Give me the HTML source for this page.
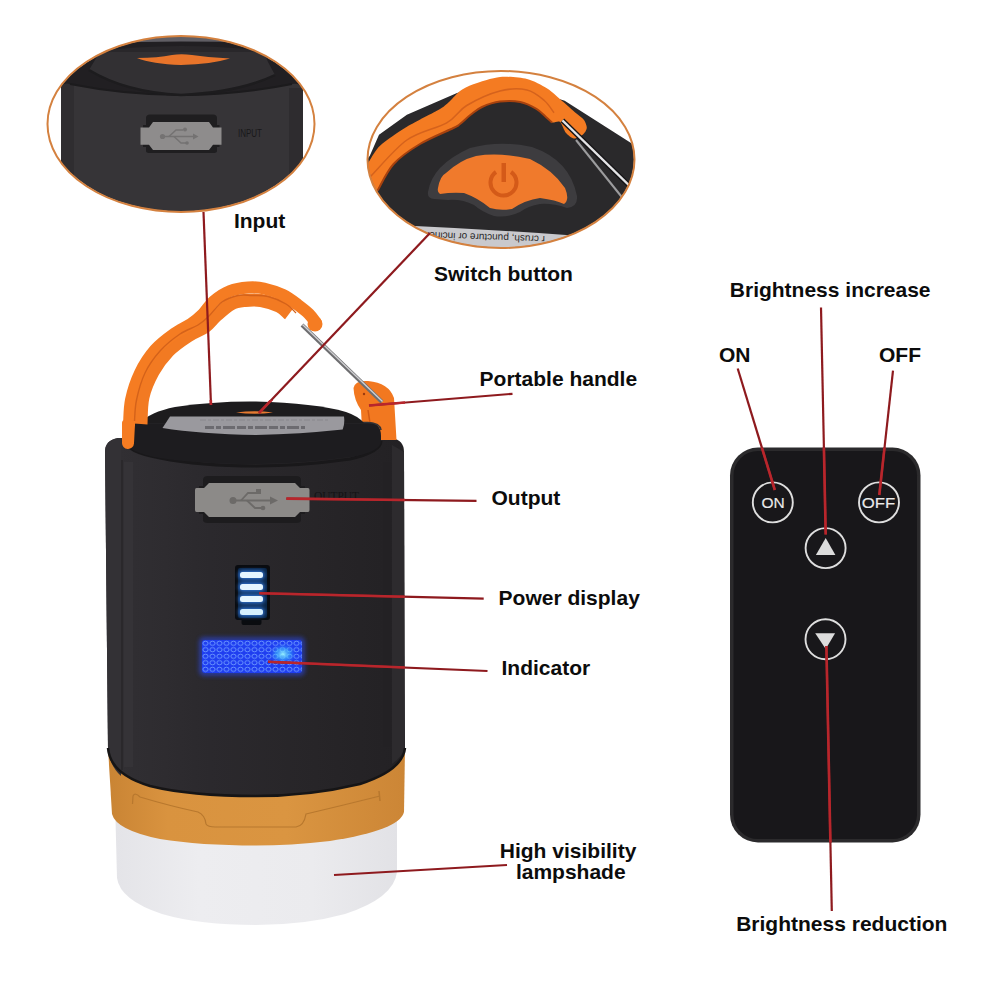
<!DOCTYPE html>
<html><head><meta charset="utf-8">
<style>
html,body{margin:0;padding:0;background:#fff;}
body{width:1001px;height:1001px;overflow:hidden;position:relative;}
svg{position:absolute;left:0;top:0;}
.lb{font-family:"Liberation Sans",sans-serif;font-weight:bold;font-size:21px;fill:#0c0c0c;}
</style></head>
<body>
<svg width="1001" height="1001" viewBox="0 0 1001 1001">
<defs>
  <clipPath id="e1"><ellipse cx="181" cy="124" rx="133" ry="87.5"/></clipPath>
  <clipPath id="e2"><ellipse cx="501" cy="159.5" rx="133" ry="88"/></clipPath>
  <linearGradient id="bodyg" x1="0" x2="1" y1="0" y2="0">
    <stop offset="0" stop-color="#323034"/>
    <stop offset="0.35" stop-color="#2b292d"/>
    <stop offset="0.7" stop-color="#272528"/>
    <stop offset="1" stop-color="#232124"/>
  </linearGradient>
  <radialGradient id="cyan" cx="0.5" cy="0.5" r="0.5">
    <stop offset="0" stop-color="#a0ffff" stop-opacity="0.9"/>
    <stop offset="0.5" stop-color="#40c8ff" stop-opacity="0.5"/>
    <stop offset="1" stop-color="#2a60ff" stop-opacity="0"/>
  </radialGradient>
  <pattern id="bub" x="202" y="640" width="7" height="6.5" patternUnits="userSpaceOnUse">
    <rect width="7" height="6.5" fill="#1f3ef0"/>
    <ellipse cx="3.5" cy="3.25" rx="2.6" ry="2.1" fill="none" stroke="#6f9cff" stroke-width="0.9"/>
  </pattern>
  <linearGradient id="goldg" x1="0" x2="1" y1="0" y2="0">
    <stop offset="0" stop-color="#c98434"/>
    <stop offset="0.2" stop-color="#d9933f"/>
    <stop offset="0.6" stop-color="#da9541"/>
    <stop offset="1" stop-color="#cc8636"/>
  </linearGradient>
  <linearGradient id="shadeg" x1="0" x2="1" y1="0" y2="0">
    <stop offset="0" stop-color="#e4e4e8"/>
    <stop offset="0.3" stop-color="#ededf0"/>
    <stop offset="0.7" stop-color="#ebebee"/>
    <stop offset="1" stop-color="#e2e2e6"/>
  </linearGradient>
  <filter id="glow" x="-50%" y="-50%" width="200%" height="200%"><feGaussianBlur stdDeviation="2"/></filter>
</defs>

<!-- ===== Lantern ===== -->
<g id="lantern">
  <!-- lampshade -->
  <path d="M115 800 L397 800 L397 872 Q394 898 345 914 Q305 925 256 925 Q200 925 162 914 Q120 900 117 878 Z" fill="url(#shadeg)"/>
  <!-- gold ring -->
  <path d="M108 748 L405 748 L404 812 Q400 830 330 841 Q290 845.5 256 845.5 Q200 845.5 160 839 Q116 830 112 814 Z" fill="url(#goldg)"/>
  <path d="M132.5 804 L133 796 Q135 792 140 797 Q170 806 198 812 Q205 815 206 824 Q208 827 215 827 L296 827 Q304 826 306 814 Q340 806 376 797 L380 796" fill="none" stroke="#b8782e" stroke-width="1.2"/>
  <path d="M379 791 L380 801" stroke="#b8782e" stroke-width="1.5"/>
  <!-- body -->
  <path d="M105 452 Q105 440 118 438 L392 438 Q404 440 404 452 L405 748 Q403 770 360 784 Q310 796 256 796 Q190 796 150 786 Q110 774 108 750 Z" fill="url(#bodyg)"/>
  <path d="M105 452 Q105 440 118 438 L121 438 L121 776 Q110 766 108 750 Z" fill="#333135"/>
  <line x1="122" y1="460" x2="122" y2="770" stroke="#29272a" stroke-width="1.5"/>
  <rect x="124" y="462" width="9" height="305" fill="#39373b" opacity="0.6"/>
  <rect x="383" y="462" width="8" height="285" fill="#232124"/>
  <path d="M392 445 L404 452 L404.5 748 Q403 756 392 764 Z" fill="#2d2b2e"/>
  <path d="M108 748 Q110 774 150 786 Q190 796 256 796 Q310 796 360 784 Q403 770 405 748" fill="none" stroke="#161516" stroke-width="2.5"/>
  <!-- shadow under cap -->
  <path d="M126 441 Q126 452 160 458 Q200 466 256 466 Q300 466 350 459 Q381 452 381 441" fill="none" stroke="#19181a" stroke-width="3"/>
  <!-- small hook -->
  <path d="M353.5 388 Q355 380 368 381 Q389 383 394 398 L396.5 440 L378 440 L376 430 L362 428 L361 410 Q354 400 353.5 388 Z" fill="#f27820"/>
  <path d="M368 410 L372 436" stroke="#d25a14" stroke-width="1.5"/>
  <circle cx="364" cy="394" r="1.2" fill="#9a3a10"/>
  <!-- cap ring -->
  <path d="M126 436 Q126 422 140 422 L367 422 Q381 422 381 436 L381 441 Q381 452 350 457 Q300 464 256 464 Q200 464 160 458 Q126 452 126 441 Z" fill="#1d1c1f"/>
  <path d="M126 430 Q128 423 140 422.5 L368 422.5 Q380 423 381 430" fill="none" stroke="#343336" stroke-width="1.5"/>
  <!-- cap top -->
  <path d="M140 423 Q150 412 175 407 Q215 401 256 401.5 Q315 403 346 412 Q358 416 364 423 Z" fill="#1d1c1e"/>
  <path d="M170 416.5 L344 416.5 Q345 424 342.7 429.5 Q300 434 256 435 Q200 434 162.5 428 Z" fill="#9a999e"/>
  <path d="M205 427.5 L305 427.5" stroke="#6c6b70" stroke-width="3" stroke-dasharray="9 2 5 2 12 2"/>
  <path d="M200 420 L330 420" stroke="#88878c" stroke-width="1" stroke-dasharray="6 2 3 2"/>
  <path d="M236 412.5 Q255 410 273 412.5 Q255 415 236 412.5 Z" fill="#e57a30"/>
  <!-- handle -->
  <path d="M141.0 424.0 C141.3 419.5 141.0 405.7 143.0 397.0 C145.0 388.3 148.8 379.7 153.0 372.0 C157.2 364.3 162.7 357.0 168.5 351.0 C174.3 345.0 181.9 340.0 188.0 336.0 C194.1 332.0 200.3 330.3 205.0 327.0 C209.7 323.7 211.7 319.8 216.0 316.0 C220.3 312.2 226.2 306.6 231.0 304.0 C235.8 301.4 240.0 301.1 245.0 300.5 C250.0 299.9 255.3 299.6 261.0 300.5 C266.7 301.4 274.3 303.8 279.0 306.0 C283.7 308.2 287.3 312.7 289.0 314.0" fill="none" stroke="#f27a22" stroke-width="13" stroke-linecap="butt"/>
  <path d="M128.0 443.0 C128.2 440.0 128.5 432.2 129.0 425.0 C129.5 417.8 129.2 408.7 131.0 400.0 C132.8 391.3 136.0 381.3 140.0 373.0 C144.0 364.7 149.3 356.5 155.0 350.0 C160.7 343.5 168.0 338.3 174.0 334.0 C180.0 329.7 186.2 327.3 191.0 324.0 C195.8 320.7 199.2 317.8 203.0 314.0 C206.8 310.2 209.5 304.8 214.0 301.0 C218.5 297.2 224.3 293.2 230.0 291.0 C235.7 288.8 242.3 287.9 248.0 287.5 C253.7 287.1 258.2 287.2 264.0 288.5 C269.8 289.8 277.3 292.2 283.0 295.0 C288.7 297.8 293.7 301.8 298.0 305.0 C302.3 308.2 306.0 311.0 309.0 314.0 C312.0 317.0 314.8 321.5 316.0 323.0" fill="none" stroke="#f57c22" stroke-width="12" stroke-linecap="round"/>
  <path d="M134.5 421.0 C134.8 417.5 134.8 408.0 136.5 400.0 C138.2 392.0 141.1 381.2 145.0 373.0 C148.9 364.8 154.2 357.5 160.0 351.0 C165.8 344.5 173.7 338.3 180.0 334.0 C186.3 329.7 193.2 328.0 198.0 325.0 C202.8 322.0 205.0 319.8 209.0 316.0 C213.0 312.2 217.2 305.4 222.0 302.0 C226.8 298.6 233.0 296.6 238.0 295.5 C243.0 294.4 247.0 295.3 252.0 295.5 C257.0 295.7 262.3 295.1 268.0 296.5 C273.7 297.9 281.3 301.2 286.0 304.0 C290.7 306.8 294.3 311.5 296.0 313.0" fill="none" stroke="#d4621a" stroke-width="1.4"/>
  <circle cx="315" cy="324" r="7.5" fill="#f57c22"/>
  <rect x="122" y="420" width="12" height="23" rx="3" fill="#f57c22"/>
  <!-- wire -->
  <line x1="302" y1="325" x2="382" y2="402" stroke="#6e6e70" stroke-width="4"/>
  <line x1="302.5" y1="324.5" x2="382.5" y2="401.5" stroke="#cfcfd2" stroke-width="1.4"/>
  <!-- USB -->
  <path d="M203 480 Q203 476 208 476 L296 476 Q301 476 301 480 L301 486 L305 486 L305 514 L301 514 L301 520 Q301 523 296 523 L208 523 Q203 523 203 520 L203 514 L199 514 L199 486 L203 486 Z" fill="#1d1c1e"/>
  <path d="M209 483 L295 483 L300 488 L308 488 Q309.5 488 309.5 490 L309.5 510 Q309.5 512 308 512 L300 512 L295 517 L209 517 L204 512 L196.5 512 Q195 512 195 510 L195 490 Q195 488 196.5 488 L204 488 Z" fill="#8c8a88"/>
  <g stroke="#6c6a68" stroke-width="1.8" fill="none">
    <line x1="234" y1="500.5" x2="272" y2="500.5"/>
    <path d="M241 500.5 L248 493 L258 493"/>
    <path d="M247 500.5 L255 508 L262 508"/>
  </g>
  <circle cx="233" cy="500.5" r="3.5" fill="#6c6a68"/>
  <path d="M270 496.5 L278 500.5 L270 504.5 Z" fill="#6c6a68"/>
  <rect x="256" y="489" width="5" height="5" fill="#6c6a68"/>
  <circle cx="263" cy="508" r="2.3" fill="#6c6a68"/>
  <text x="314" y="500" style="font-family:'Liberation Serif',serif;font-size:13px;fill:#141315" textLength="45" lengthAdjust="spacingAndGlyphs">OUTPUT</text>
  <!-- battery -->
  <rect x="235" y="565" width="35" height="55" rx="3" fill="#0a0c10"/>
  <rect x="241.5" y="618" width="20" height="7" rx="2" fill="#0a0c10"/>
  <rect x="238" y="568" width="29" height="50" rx="2" fill="#0a2444"/>
  <g filter="url(#glow)" fill="#3c8cff" opacity="0.9">
    <rect x="239" y="571" width="25" height="8" rx="3"/>
    <rect x="239" y="583" width="25" height="8" rx="3"/>
    <rect x="239" y="595" width="25" height="8" rx="3"/>
    <rect x="239" y="608" width="25" height="8" rx="3"/>
  </g>
  <rect x="240" y="572" width="23" height="6" rx="2.5" fill="#e6f6ff"/>
  <rect x="240" y="584" width="23" height="6" rx="2.5" fill="#e6f6ff"/>
  <rect x="240" y="596" width="23" height="6" rx="2.5" fill="#e6f6ff"/>
  <rect x="240" y="609" width="23" height="6" rx="2.5" fill="#d6f0ff"/>
  <!-- blue indicator -->
  <rect x="199" y="637" width="106" height="39" rx="5" fill="#2a4cff" opacity="0.5" filter="url(#glow)"/>
  <rect x="202" y="640" width="100" height="33" rx="3" fill="url(#bub)"/>
  <ellipse cx="283" cy="654" rx="14" ry="11" fill="url(#cyan)"/>
</g>

<!-- ===== Inset 1 ===== -->
<g clip-path="url(#e1)">
  <rect x="40" y="30" width="290" height="190" fill="#fff"/>
  <!-- top dark region -->
  <path d="M61 100 L61 60 Q110 30 181 30 Q255 30 303 60 L303 100 Z" fill="#211f22"/>
  <path d="M100 43 Q181 40 262 43 L262 30 L100 30 Z" fill="#605e64"/>
  <path d="M90 52 Q181 40 272 52 L272 58 L90 58 Z" fill="#29272a"/>
  <!-- body -->
  <path d="M61 86 Q63 83 70 84 Q181 106 292 84 Q301 83 303 88 L303 220 L61 220 Z" fill="#363437"/>
  <path d="M61 86 Q63 83 70 84 L74 85 L74 220 L61 220 Z" fill="#2f2d30"/>
  <rect x="289" y="88" width="14" height="132" fill="#2e2c2f"/>
  <path d="M70 84 Q181 106 292 84" fill="none" stroke="#1c1b1d" stroke-width="2"/>
  <!-- cap block -->
  <path d="M89 70 L95 60 Q98 53 110 52 L254 52 Q266 53 268 62 L275 75 Q240 92 181 95 Q125 92 89 70 Z" fill="#323033"/>
  <path d="M89 70 Q125 92 181 95 Q240 92 275 75" fill="none" stroke="#1d1c1e" stroke-width="2.5"/>
  <!-- orange lens -->
  <path d="M137 58 Q158 58 172 55 Q181 53.5 192 55 Q212 58 230 58.5 Q212 64 181 65 Q152 64 137 58 Z" fill="#e8742a"/>
  <!-- USB recess & cover -->
  <path d="M146 118 Q146 114.5 150 114.5 L213 114.5 Q217 114.5 217 118 L217 125 L219.5 125 L219.5 147 L217 147 L217 151 Q217 153 213 153 L150 153 Q146 153 146 151 L146 147 L143 147 L143 125 L146 125 Z" fill="#1f1e20"/>
  <path d="M153 122 L209 122 L213 127.5 L221.5 127.5 L221.5 144.7 L213 144.7 L209 150 L153 150 L149 144.7 L140.5 144.7 L140.5 127.5 L149 127.5 Z" fill="#8e8c8c"/>
  <g stroke="#747272" stroke-width="1.5" fill="none">
    <line x1="163" y1="136.5" x2="194" y2="136.5"/>
    <path d="M169 136.5 L176 130 L183 130"/>
    <path d="M174 136.5 L181 143 L186 143"/>
  </g>
  <circle cx="162.5" cy="136.5" r="2.6" fill="#747272"/>
  <path d="M193 133.5 L198.5 136.5 L193 139.5 Z" fill="#747272"/>
  <circle cx="185" cy="129.5" r="2" fill="#747272"/>
  <circle cx="187" cy="143" r="1.8" fill="#747272"/>
  <text x="238" y="136.5" style="font-family:'Liberation Sans',sans-serif;font-size:11px;fill:#19181a" textLength="24" lengthAdjust="spacingAndGlyphs">INPUT</text>
</g>
<ellipse cx="181" cy="124" rx="133.5" ry="88" fill="none" stroke="#d4813f" stroke-width="2"/>

<!-- ===== Inset 2 ===== -->
<g clip-path="url(#e2)">
  <rect x="360" y="65" width="280" height="190" fill="#fff"/>
  <path d="M360 168 L369.7 156 L379 134.8 L406.9 114.8 L457 93 L500 80 L564.7 100.7 L632.2 143.8 L640 150 L640 260 L360 260 Z" fill="#2a292b"/>
  <!-- label strip -->
  <path d="M415 226 Q500 230 580 236 L600 260 L400 260 Z" fill="#c9c9cd"/>
  <text x="0" y="0" transform="translate(545,236) rotate(182)" style="font-family:'Liberation Sans',sans-serif;font-size:10px;fill:#2a2a2a">r crush,  puncture or incinerate</text>
  <!-- recess ring -->
  <path d="M428 192 Q432 165 470 148 Q500 140 532 147 Q570 160 577 196 Q578 207 567 208 Q552 203 540 204 Q528 206 520 212 Q508 218 494 216 Q482 212 474 205 Q462 199 448 200 L434 199 Q427 198 428 192 Z" fill="#3d3c3f"/>
  <!-- orange button -->
  <path d="M438 188 Q440 176 446 173 Q460 160 476 156 Q500 152 530 159 Q553 170 565 188 Q570 200 564 204 Q556 200 540 198 Q525 200 512 209 Q500 211 490 208 Q478 198 464 193 Q452 192 440 194 Q437 192 438 188 Z" fill="#f07a2c"/>
  <!-- power icon -->
  <path d="M496 172 A13 13 0 1 0 511 172" fill="none" stroke="#d45a18" stroke-width="4"/>
  <rect x="501.5" y="163" width="4.5" height="19" fill="#d45a18"/>
  <!-- handle -->
  <path d="M362.0 172.0 C363.9 164.9 366.6 164.9 369.0 161.4 C371.4 157.9 375.2 150.0 380.3 145.4 C385.4 140.8 398.9 131.7 406.9 126.8 C414.9 121.9 434.3 112.4 440.0 109.0 C445.7 105.6 447.3 103.4 450.0 101.0 C452.7 98.6 456.9 93.2 460.0 91.0 C463.1 88.8 468.0 86.2 473.3 84.3 C478.6 82.4 492.8 77.7 500.0 77.0 C507.2 76.3 520.7 77.5 527.0 79.0 C533.3 80.5 542.3 85.4 547.2 88.5 C552.1 91.6 559.6 98.8 563.4 102.0 C567.2 105.2 572.8 110.4 575.5 112.8 C578.2 115.2 582.5 118.0 584.0 120.0 C585.5 122.0 586.9 126.1 586.8 128.0 C586.7 129.9 584.7 133.0 583.0 134.4 C581.3 135.8 576.3 138.6 574.0 138.4 C571.7 138.2 567.9 135.2 566.0 133.0 C564.1 130.8 561.9 123.4 560.0 122.0 C558.1 120.6 553.9 123.2 552.0 122.5 C550.1 121.8 548.0 118.7 545.9 116.9 C543.8 115.1 539.8 110.8 536.4 108.8 C533.0 106.8 525.1 103.0 520.2 102.0 C515.3 101.0 505.1 100.9 500.0 101.6 C494.9 102.3 485.9 105.2 482.0 107.0 C478.1 108.8 473.5 112.5 470.6 114.8 C467.7 117.1 462.3 122.2 460.0 124.0 C457.7 125.8 458.7 125.3 453.4 128.0 C448.1 130.7 428.0 139.2 420.0 144.0 C412.0 148.8 399.3 157.8 393.6 164.0 C387.9 170.2 380.5 183.8 377.6 190.6 C374.7 197.4 375.0 211.7 372.0 215.0 C369.0 218.3 356.3 220.7 355.0 215.0 C353.7 209.3 360.1 179.1 362.0 172.0 Z" fill="#f47b22"/>
  <path d="M362.0 184.0 C363.3 182.9 362.2 184.6 369.7 177.3 C377.2 170.0 394.1 149.1 406.9 140.0 C419.7 130.9 436.7 128.6 446.7 122.8 C456.7 117.0 457.8 110.8 466.7 105.5 C475.6 100.2 489.8 93.6 499.9 91.0 C509.9 88.4 519.6 88.3 527.0 89.9 C534.4 91.5 540.0 96.9 544.5 100.7 C549.0 104.5 552.4 110.8 554.0 112.8" fill="none" stroke="#d5621c" stroke-width="1.5"/>
  <path d="M377.6 190.6 C380.3 186.2 386.5 171.8 393.6 164.0 C400.7 156.2 410.0 150.0 420.0 144.0 C430.0 138.0 446.7 131.3 453.4 128.0 C460.1 124.7 457.1 126.2 460.0 124.0 C462.9 121.8 466.9 117.6 470.6 114.8 C474.3 112.0 477.1 109.2 482.0 107.0 C486.9 104.8 493.6 102.4 500.0 101.6 C506.4 100.8 514.1 100.8 520.2 102.0 C526.3 103.2 532.1 106.3 536.4 108.8 C540.7 111.3 543.3 114.6 545.9 116.9 C548.5 119.2 551.0 121.6 552.0 122.5" fill="none" stroke="#a8420e" stroke-width="2"/>
  <!-- wire -->
  <line x1="562.4" y1="120.4" x2="640" y2="196" stroke="#151416" stroke-width="5"/>
  <line x1="562.4" y1="120.4" x2="640" y2="196" stroke="#e4e4e6" stroke-width="2.2"/>
  <line x1="576" y1="140" x2="625" y2="201" stroke="#9c9c9e" stroke-width="2"/>
</g>
<ellipse cx="501" cy="159.5" rx="133.5" ry="88.5" fill="none" stroke="#d4813f" stroke-width="2"/>

<!-- ===== Remote ===== -->
<rect x="730" y="447.5" width="190.5" height="395" rx="28" fill="#2b2a2c"/>
<rect x="733.5" y="451" width="183.5" height="388" rx="24.5" fill="#18171a"/>
<g fill="none" stroke="#dedede" stroke-width="1.9">
  <circle cx="772.8" cy="502.4" r="20"/>
  <circle cx="879" cy="502.4" r="20"/>
  <circle cx="825.6" cy="548.1" r="20"/>
  <circle cx="825.5" cy="639.2" r="20"/>
</g>
<polygon points="825.7,538 815.9,555 835.4,555" fill="#dcdcdc"/>
<polygon points="815.2,633.2 835.1,633.2 825.7,649" fill="#dcdcdc"/>
<text x="773" y="508.2" text-anchor="middle" style="font-family:'Liberation Sans',sans-serif;font-size:15.5px;fill:#eaeaea;stroke:#eaeaea;stroke-width:0.15">ON</text>
<text x="878.6" y="508.2" text-anchor="middle" style="font-family:'Liberation Sans',sans-serif;font-size:15.5px;fill:#eaeaea;stroke:#eaeaea;stroke-width:0.15" textLength="33.5" lengthAdjust="spacingAndGlyphs">OFF</text>

<!-- ===== Red lines ===== -->
<defs>
  <clipPath id="darkc">
    <rect x="105" y="400" width="300" height="396"/>
    <rect x="730" y="447.5" width="190.5" height="395"/>
    <rect x="360" y="380" width="40" height="62"/>
  </clipPath>
</defs>
<g stroke="#8e1a1e" stroke-width="2.2" fill="none">
  <line x1="203.5" y1="212" x2="211" y2="405"/>
  <line x1="430" y1="233" x2="259" y2="413"/>
  <line x1="369" y1="405.5" x2="512.5" y2="393.8"/>
  <line x1="286.4" y1="498.6" x2="476.5" y2="500.8"/>
  <line x1="259.2" y1="593.2" x2="483.7" y2="598.6"/>
  <line x1="268" y1="661.8" x2="487.5" y2="671"/>
  <line x1="334" y1="875" x2="507" y2="865"/>
  <line x1="737.7" y1="368.5" x2="774.8" y2="490"/>
  <line x1="893" y1="370.6" x2="879.3" y2="495"/>
  <line x1="821" y1="307.4" x2="825.7" y2="534.5"/>
  <line x1="826.4" y1="646" x2="831.8" y2="911"/>
</g>
<g stroke="#b8262c" stroke-width="2.6" fill="none" clip-path="url(#darkc)">
  <line x1="203.5" y1="212" x2="211" y2="405"/>
  <line x1="430" y1="233" x2="259" y2="413"/>
  <line x1="369" y1="405.5" x2="512.5" y2="393.8"/>
  <line x1="286.4" y1="498.6" x2="476.5" y2="500.8"/>
  <line x1="259.2" y1="593.2" x2="483.7" y2="598.6"/>
  <line x1="268" y1="661.8" x2="487.5" y2="671"/>
  <line x1="334" y1="875" x2="507" y2="865"/>
  <line x1="737.7" y1="368.5" x2="774.8" y2="490"/>
  <line x1="893" y1="370.6" x2="879.3" y2="495"/>
  <line x1="821" y1="307.4" x2="825.7" y2="534.5"/>
  <line x1="826.4" y1="646" x2="831.8" y2="911"/>
</g>

<!-- ===== Labels ===== -->
<text class="lb" x="233.9" y="228.3">Input</text>
<text class="lb" x="434" y="281">Switch button</text>
<text class="lb" x="479.6" y="385.7">Portable handle</text>
<text class="lb" x="491.5" y="505">Output</text>
<text class="lb" x="498.6" y="604.5">Power display</text>
<text class="lb" x="501.5" y="675">Indicator</text>
<text class="lb" x="499.8" y="858.3">High visibility</text>
<text class="lb" x="515.9" y="878.9">lampshade</text>
<text class="lb" x="729.8" y="296.7">Brightness increase</text>
<text class="lb" x="719" y="362">ON</text>
<text class="lb" x="879" y="362">OFF</text>
<text class="lb" x="736.2" y="930.6">Brightness reduction</text>
</svg>
</body></html>
